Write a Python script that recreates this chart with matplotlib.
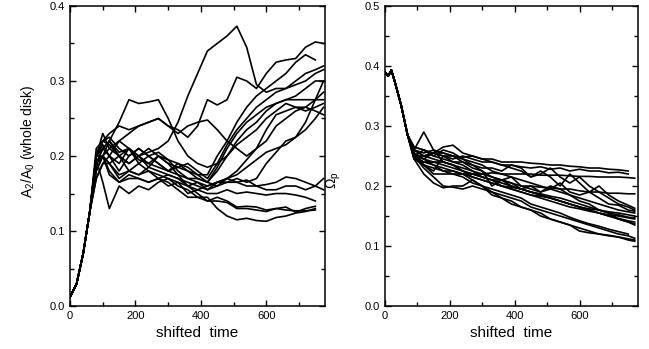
import numpy as np
import matplotlib.pyplot as plt
from matplotlib.ticker import MultipleLocator, FormatStrFormatter

plt.rcParams['font.family'] = ['Liberation Sans', 'DejaVu Sans']
plt.rcParams['mathtext.fontset'] = 'custom'
plt.rcParams['mathtext.rm'] = 'Liberation Sans'
plt.rcParams['mathtext.it'] = 'Liberation Sans'

nan = np.nan

# left panel: A2/A0 vs shifted time
t_a = [0, 20, 40, 60, 80, 100, 120, 150, 180, 210, 240, 270, 300, 330, 360, 390,
       420, 450, 480, 510, 540, 570, 600, 630, 660, 690, 720, 750, 775]
a_head = [0.012, 0.03, 0.07, 0.125]
a_tails = [
    [0.20, 0.21, 0.22, 0.205, 0.21, 0.20, 0.205, 0.21, 0.22, 0.245, 0.28, 0.31, 0.34, 0.35, 0.36, 0.373, 0.345, 0.295, 0.285, 0.29, 0.29, 0.295, 0.30, 0.31, 0.315],
    [0.19, 0.20, 0.21, 0.22, 0.23, 0.24, 0.245, 0.25, 0.24, 0.235, 0.225, 0.24, 0.275, 0.268, 0.275, 0.305, 0.30, 0.29, 0.31, 0.325, 0.328, 0.33, 0.345, 0.352, 0.35],
    [0.19, 0.21, 0.22, 0.245, 0.275, 0.27, 0.272, 0.275, 0.25, 0.22, 0.20, 0.19, 0.185, 0.19, 0.20, 0.215, 0.225, 0.235, 0.25, 0.26, 0.27, 0.265, 0.26, 0.265, 0.27],
    [0.20, 0.22, 0.23, 0.24, 0.235, 0.24, 0.245, 0.25, 0.24, 0.23, 0.24, 0.245, 0.248, 0.235, 0.22, 0.21, 0.20, 0.21, 0.235, 0.255, 0.26, 0.265, 0.265, 0.26, 0.255],
    [0.18, 0.20, 0.22, 0.20, 0.19, 0.20, 0.21, 0.20, 0.19, 0.185, 0.18, 0.175, 0.175, 0.20, 0.22, 0.245, 0.265, 0.28, 0.29, 0.30, 0.31, 0.325, 0.335, 0.328, nan],
    [0.19, 0.21, 0.20, 0.22, 0.21, 0.19, 0.20, 0.19, 0.18, 0.185, 0.19, 0.18, 0.17, 0.19, 0.215, 0.235, 0.25, 0.265, 0.275, 0.285, 0.29, 0.30, 0.31, 0.315, 0.32],
    [0.17, 0.19, 0.20, 0.18, 0.20, 0.21, 0.20, 0.19, 0.18, 0.19, 0.185, 0.175, 0.165, 0.18, 0.20, 0.22, 0.235, 0.245, 0.26, 0.27, 0.275, 0.28, 0.29, 0.30, 0.30],
    [0.20, 0.23, 0.21, 0.20, 0.19, 0.20, 0.185, 0.18, 0.175, 0.17, 0.165, 0.16, 0.155, 0.16, 0.17, 0.18, 0.195, 0.21, 0.22, 0.24, 0.25, 0.26, 0.265, 0.275, 0.285],
    [0.20, 0.215, 0.20, 0.19, 0.21, 0.195, 0.19, 0.20, 0.19, 0.175, 0.16, 0.155, 0.16, 0.165, 0.17, 0.175, 0.185, 0.195, 0.205, 0.21, 0.215, 0.225, 0.245, 0.275, 0.30],
    [0.21, 0.22, 0.225, 0.21, 0.20, 0.21, 0.20, 0.205, 0.195, 0.19, 0.18, 0.17, 0.165, 0.185, 0.21, 0.23, 0.245, 0.255, 0.265, 0.27, 0.275, 0.275, 0.275, 0.275, 0.275],
    [0.18, 0.20, 0.19, 0.17, 0.18, 0.175, 0.18, 0.17, 0.175, 0.17, 0.16, 0.165, 0.155, 0.165, 0.165, 0.17, 0.165, 0.17, 0.19, 0.205, 0.22, 0.225, 0.235, 0.25, 0.265],
    [0.19, 0.20, 0.19, 0.20, 0.18, 0.175, 0.185, 0.20, 0.195, 0.18, 0.17, 0.165, 0.16, 0.165, 0.17, 0.165, 0.168, 0.16, 0.155, 0.155, 0.16, 0.16, 0.155, 0.16, 0.17],
    [0.20, 0.22, 0.215, 0.20, 0.21, 0.20, 0.19, 0.185, 0.18, 0.175, 0.17, 0.17, 0.165, 0.16, 0.165, 0.165, 0.16, 0.16, 0.162, 0.165, 0.172, 0.17, 0.165, 0.16, 0.155],
    [0.19, 0.20, 0.18, 0.165, 0.175, 0.17, 0.165, 0.17, 0.16, 0.165, 0.15, 0.155, 0.15, 0.15, 0.155, 0.15, 0.152, 0.15, 0.148, 0.15, 0.15, 0.148, 0.145, 0.14, nan],
    [0.20, 0.20, 0.175, 0.165, 0.17, 0.17, 0.165, 0.17, 0.165, 0.155, 0.145, 0.145, 0.14, 0.145, 0.14, 0.132, 0.133, 0.132, 0.128, 0.13, 0.132, 0.125, 0.13, 0.133, nan],
    [0.195, 0.165, 0.13, 0.16, 0.15, 0.16, 0.155, 0.165, 0.17, 0.16, 0.155, 0.145, 0.145, 0.13, 0.12, 0.115, 0.117, 0.114, 0.113, 0.118, 0.12, 0.124, 0.126, 0.13, nan],
    [0.17, 0.19, 0.19, 0.175, 0.18, 0.19, 0.18, 0.175, 0.17, 0.165, 0.16, 0.15, 0.14, 0.14, 0.138, 0.13, 0.13, 0.128, 0.126, 0.13, 0.128, 0.127, 0.127, 0.128, nan],
]

# right panel: Omega_p vs shifted time
t_b = [0, 10, 20, 30, 50, 70, 90, 120, 150, 180, 210, 240, 270, 300, 330, 360,
       390, 420, 450, 480, 510, 540, 570, 600, 630, 660, 690, 720, 750, 770]
b_head = [0.39, 0.383, 0.393, 0.375, 0.335, 0.285]
b_tails = [
    [0.265, 0.26, 0.255, 0.25, 0.25, 0.248, 0.25, 0.245, 0.245, 0.24, 0.24, 0.24, 0.238, 0.237, 0.235, 0.235, 0.233, 0.232, 0.23, 0.23, 0.228, 0.227, 0.225, nan],
    [0.26, 0.25, 0.255, 0.25, 0.245, 0.25, 0.245, 0.24, 0.24, 0.235, 0.235, 0.232, 0.23, 0.232, 0.228, 0.23, 0.225, 0.228, 0.225, 0.225, 0.222, 0.223, 0.22, nan],
    [0.255, 0.245, 0.235, 0.225, 0.22, 0.22, 0.22, 0.22, 0.222, 0.22, 0.22, 0.22, 0.22, 0.218, 0.218, 0.218, 0.217, 0.216, 0.216, 0.215, 0.215, 0.215, 0.214, 0.213],
    [0.26, 0.29, 0.26, 0.24, 0.235, 0.23, 0.225, 0.22, 0.215, 0.21, 0.205, 0.20, 0.20, 0.198, 0.197, 0.195, 0.195, 0.192, 0.19, 0.19, 0.188, 0.188, 0.187, 0.187],
    [0.25, 0.245, 0.255, 0.265, 0.268, 0.255, 0.25, 0.245, 0.24, 0.235, 0.23, 0.225, 0.215, 0.225, 0.215, 0.20, 0.22, 0.205, 0.19, 0.20, 0.185, 0.175, 0.168, 0.163],
    [0.25, 0.26, 0.25, 0.245, 0.24, 0.24, 0.235, 0.23, 0.23, 0.225, 0.235, 0.23, 0.215, 0.22, 0.23, 0.215, 0.205, 0.215, 0.20, 0.19, 0.18, 0.17, 0.165, 0.16],
    [0.26, 0.255, 0.26, 0.255, 0.25, 0.245, 0.24, 0.235, 0.225, 0.22, 0.215, 0.21, 0.205, 0.20, 0.195, 0.19, 0.185, 0.18, 0.175, 0.17, 0.165, 0.16, 0.157, 0.155],
    [0.245, 0.24, 0.235, 0.23, 0.225, 0.22, 0.215, 0.21, 0.205, 0.20, 0.198, 0.195, 0.19, 0.187, 0.183, 0.18, 0.175, 0.17, 0.165, 0.16, 0.157, 0.155, 0.152, 0.15],
    [0.25, 0.24, 0.24, 0.235, 0.23, 0.225, 0.22, 0.215, 0.21, 0.205, 0.20, 0.195, 0.19, 0.185, 0.18, 0.175, 0.17, 0.165, 0.16, 0.155, 0.152, 0.15, 0.147, 0.145],
    [0.25, 0.25, 0.255, 0.255, 0.25, 0.24, 0.23, 0.225, 0.215, 0.21, 0.20, 0.195, 0.19, 0.185, 0.18, 0.175, 0.17, 0.165, 0.16, 0.155, 0.15, 0.145, 0.14, 0.137],
    [0.255, 0.245, 0.24, 0.24, 0.235, 0.225, 0.215, 0.21, 0.205, 0.20, 0.195, 0.19, 0.185, 0.18, 0.175, 0.17, 0.165, 0.162, 0.158, 0.155, 0.15, 0.146, 0.142, 0.14],
    [0.25, 0.235, 0.22, 0.22, 0.22, 0.215, 0.205, 0.20, 0.195, 0.19, 0.185, 0.18, 0.17, 0.165, 0.16, 0.155, 0.148, 0.142, 0.137, 0.133, 0.128, 0.124, 0.12, nan],
    [0.245, 0.235, 0.23, 0.225, 0.225, 0.22, 0.21, 0.20, 0.19, 0.185, 0.18, 0.175, 0.165, 0.16, 0.155, 0.15, 0.145, 0.14, 0.135, 0.13, 0.125, 0.12, 0.117, 0.113],
    [0.25, 0.23, 0.215, 0.20, 0.198, 0.195, 0.20, 0.195, 0.19, 0.18, 0.17, 0.165, 0.16, 0.155, 0.145, 0.14, 0.135, 0.125, 0.122, 0.12, 0.118, 0.115, 0.11, 0.108],
    [0.245, 0.22, 0.205, 0.197, 0.20, 0.20, 0.21, 0.20, 0.185, 0.18, 0.175, 0.165, 0.16, 0.15, 0.145, 0.14, 0.135, 0.13, 0.125, 0.12, 0.117, 0.115, 0.112, 0.11],
    [0.255, 0.235, 0.225, 0.25, 0.24, 0.235, 0.225, 0.215, 0.21, 0.20, 0.195, 0.19, 0.185, 0.183, 0.18, 0.175, 0.17, 0.165, 0.162, 0.16, 0.155, 0.152, 0.148, 0.147],
    [0.265, 0.26, 0.25, 0.26, 0.255, 0.245, 0.235, 0.225, 0.20, 0.21, 0.215, 0.20, 0.195, 0.19, 0.20, 0.195, 0.185, 0.175, 0.17, 0.16, 0.155, 0.145, 0.14, 0.135],
    [0.26, 0.25, 0.245, 0.24, 0.235, 0.225, 0.22, 0.215, 0.21, 0.21, 0.205, 0.195, 0.20, 0.19, 0.195, 0.205, 0.19, 0.185, 0.19, 0.18, 0.17, 0.168, 0.16, 0.158],
]

fig = plt.figure(figsize=(6.49, 3.49), dpi=100)
ax1 = fig.add_axes([0.108, 0.123, 0.393, 0.86])
ax2 = fig.add_axes([0.593, 0.123, 0.390, 0.86])

for tail in a_tails:
    ax1.plot(t_a, a_head + tail, color='black', lw=1.2)
for tail in b_tails:
    ax2.plot(t_b, b_head + tail, color='black', lw=1.2)

for ax, ytop in [(ax1, 0.4), (ax2, 0.5)]:
    ax.set_xlim(0, 780)
    ax.set_ylim(0, ytop)
    ax.xaxis.set_major_locator(MultipleLocator(200))
    ax.xaxis.set_minor_locator(MultipleLocator(100))
    ax.yaxis.set_major_locator(MultipleLocator(0.1))
    ax.yaxis.set_minor_locator(MultipleLocator(0.05))
    ax.yaxis.set_major_formatter(FormatStrFormatter('%.1f'))
    ax.tick_params(which='both', direction='in', top=True, right=True, width=1.0, labelsize=8)
    ax.tick_params(which='major', length=4)
    ax.tick_params(which='minor', length=3)
    for s in ax.spines.values():
        s.set_linewidth(1.1)
    ax.set_xlabel('shifted  time', fontsize=11, labelpad=4)

ax1.set_ylabel(r'A$_2$/A$_0$ (whole disk)', fontsize=10)
ax1.yaxis.set_label_coords(-0.13, 0.55)
ax2.set_ylabel(r'$\Omega_\mathrm{p}$', fontsize=10)
ax2.yaxis.set_label_coords(-0.165, 0.42)

fig.savefig('out.png', dpi=100)
